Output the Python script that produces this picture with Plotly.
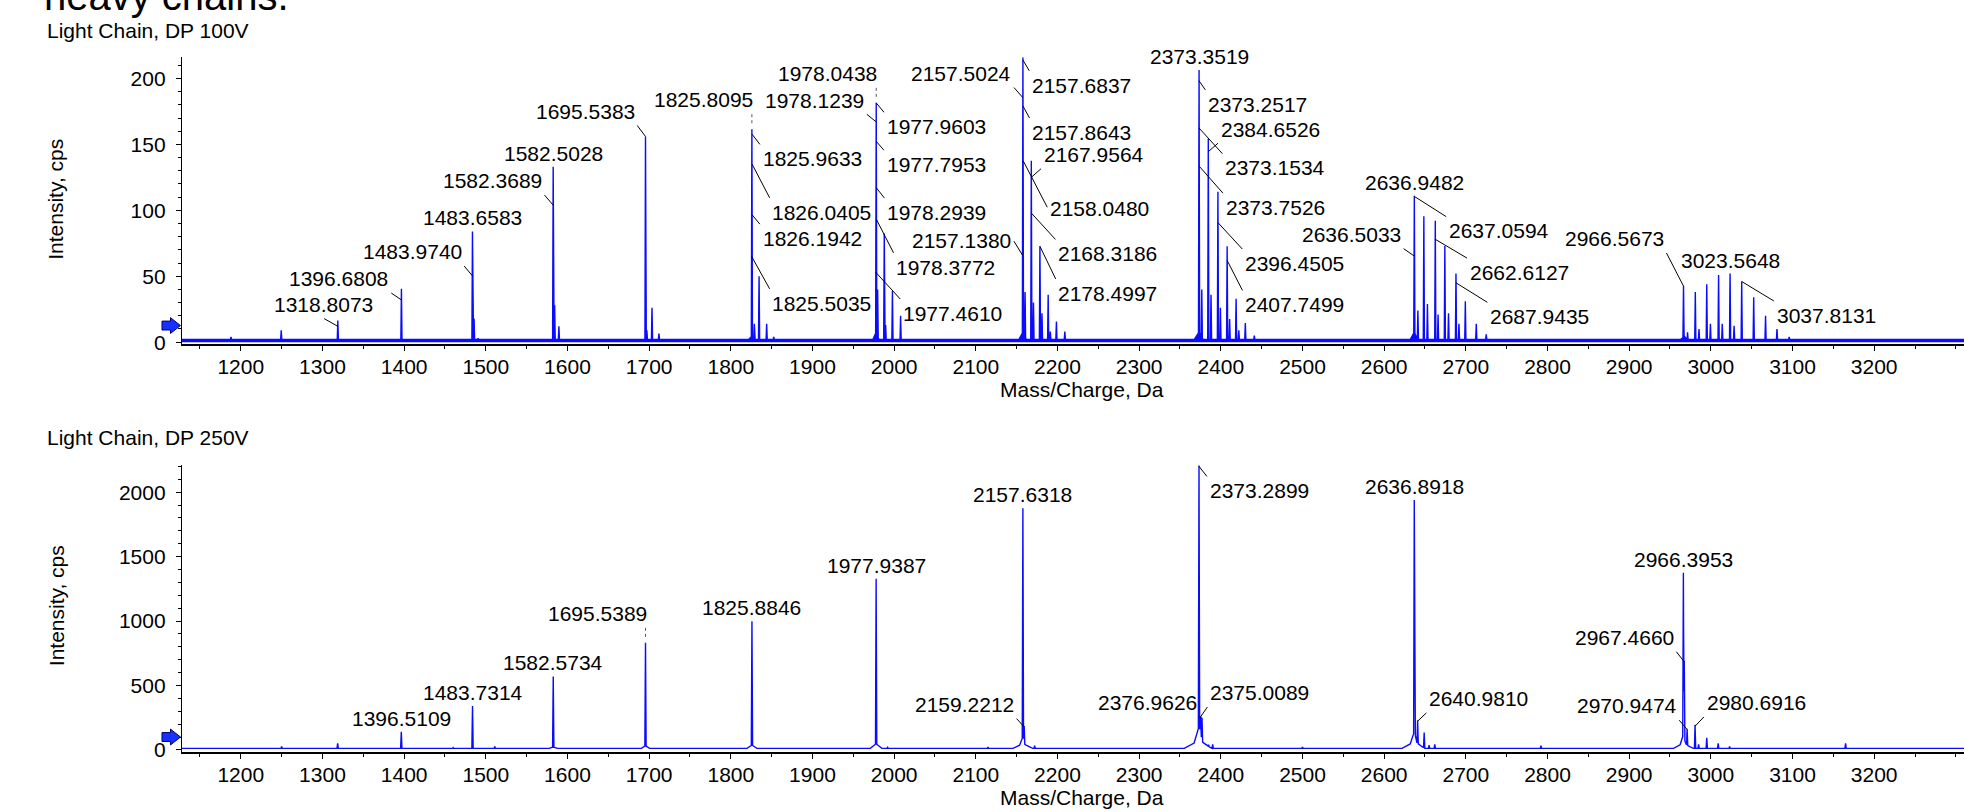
import plotly.graph_objects as go

W, H = 1964, 812
FONT = "Liberation Sans, Arial, sans-serif"
BLUE = "#0b0bff"
FS = 21

# ---------------- Light Chain, DP 100V ----------------
dp100_mz = [1188.0, 1249.5, 1318.8073, 1396.6808, 1483.6583, 1485.6, 1490.5,
            1582.5028, 1584.3, 1589.5, 1695.5383, 1697.2, 1703.5, 1712.0,
            1825.8095, 1828.8, 1834.6, 1843.9, 1852.6,
            1978.0438, 1979.8, 1987.9, 1989.6, 1997.9, 2007.9,
            2157.6837, 2160.3, 2167.9564, 2170.6, 2178.4997, 2181.0, 2188.6, 2191.2, 2198.7, 2209.0,
            2373.3519, 2376.7, 2384.6526, 2388.0, 2396.4505, 2399.5, 2407.7499, 2410.8,
            2418.7, 2422.0, 2430.0, 2441.0,
            2636.9482, 2641.3, 2648.6, 2653.0, 2662.6127, 2666.0, 2674.3, 2678.8,
            2687.9435, 2691.6, 2699.4, 2712.8, 2725.0,
            2966.5673, 2971.5, 2981.0, 2985.5, 2995.0, 2999.5, 3009.5, 3014.0,
            3023.5648, 3028.5, 3037.8131, 3052.5, 3067.0, 3081.0, 3096.0]
dp100_int = [4, 9, 16.5, 40.5, 84, 18, 3,
             133, 28, 12, 156, 9, 26, 6.5,
             161.5, 14, 50, 14, 4,
             181.5, 40, 82.5, 13, 38.8, 20,
             216, 38, 137.5, 30, 72.7, 22, 36, 8, 15.7, 8,
             206.5, 40, 154.5, 36, 114, 26, 72.7, 17.5,
             33, 9, 14.5, 5,
             111, 24, 95.5, 29, 92, 21, 73, 22,
             52, 14, 31, 14, 6,
             42.5, 7.5, 38, 10, 44, 14, 51, 14,
             52, 12.5, 46, 34, 20, 10, 4]
# broad skirts under the main clusters (centre, height, half-width)
dp100_skirt_mz = [1825.8, 1978.0, 2157.7, 2373.4, 2636.9, 2967.0]
dp100_skirt_int = [5, 8, 8, 8, 8, 5]
dp100_skirt_hw = [4, 4, 5, 6, 5, 4]
dp100_baseline = 2.0

dp100_label_text = ["1318.8073", "1396.6808", "1483.9740", "1483.6583", "1582.3689", "1582.5028",
                    "1695.5383", "1825.8095", "1825.9633", "1826.0405", "1826.1942", "1825.5035",
                    "1978.0438", "1978.1239", "1977.9603", "1977.7953", "1978.2939", "1978.3772",
                    "1977.4610", "2157.5024", "2157.6837", "2157.8643", "2167.9564", "2158.0480",
                    "2157.1380", "2168.3186", "2178.4997", "2373.3519", "2373.2517", "2384.6526",
                    "2373.1534", "2373.7526", "2396.4505", "2407.7499", "2636.9482", "2637.0594",
                    "2636.5033", "2662.6127", "2687.9435", "2966.5673", "3023.5648", "3037.8131"]
dp100_label_int = [12, 32, 50, 84, 104, 133,
                   156, 161.5, 157.75, 135, 96.5, 65,
                   181.5, 167, 181.5, 152.5, 117, 93,
                   53, 185.5, 214, 179, 125, 137.5,
                   66, 97.7, 72.7, 206.5, 198.3, 144.5,
                   162.5, 133.3, 90.7, 62, 111, 110.5,
                   65.5, 78, 45, 42.5, 52, 46]
# label placement: ("top",) above the peak, ("dash",) right-aligned with a dashed tick,
# otherwise (leader attach point, text-centre dx px, text-centre dy px)
dp100_label_place = [("mid", -14.5, -20.7), ("corner", -61.5, -20), ("corner", -59.7, -23.5), ("top",),
                     ("corner", -59.7, -23.2), ("top",), ("corner", -59.4, -24.3), ("dash",),
                     ("corner", 59, 23.5), ("corner", 68.5, 47), ("corner", 58.8, 22.5), ("corner", 69, 45.8),
                     ("dash",), ("corner", -60.7, -20.8), ("corner", 59, 22.7), ("corner", 59, 22.3),
                     ("corner", 59, 23.3), ("corner", 68, 46.7), ("corner", 75.7, 40), ("corner", -60, -23.3),
                     ("corner", 57.4, 24.2), ("corner", 57.4, 25.2), ("corner", 61, -21.8), ("side", 75, 47.3),
                     ("side", -59.6, -14.8), ("corner", 75, 39.3), ("corner", 66.7, 46), ("top",),
                     ("corner", 57.4, 22.5), ("corner", 61, -21.6), ("corner", 74.7, 39), ("corner", 74.7, 40),
                     ("corner", 75.6, 39.7), ("corner", 66.3, 43.4), ("top",), ("corner", 83.1, 33.2),
                     ("corner", -61.7, -20.2), ("corner", 83.1, 31.8), ("corner", 82.7, 32.5),
                     ("corner", -68, -46.5), ("top",), ("corner", 83.5, 32.5)]

# ---------------- Light Chain, DP 250V ----------------
dp250_mz = [1250.0, 1316.0, 1318.6, 1396.5109, 1460.0, 1483.7314, 1511.0, 1582.5734,
            1695.5389, 1825.8846, 1840.0, 1977.9387, 1992.0, 2115.0,
            2157.6318, 2159.2212, 2172.0, 2373.2899, 2375.0089, 2376.9626, 2385.0, 2390.0, 2500.0,
            2636.8918, 2637.4, 2640.9810, 2649.0, 2655.0, 2662.0, 2675.0, 2792.0,
            2966.3953, 2967.4660, 2970.9474, 2980.6916, 2985.0, 2995.0, 3009.0, 3023.0, 3037.0, 3165.0]
dp250_int = [26, 12, 51, 141, 18, 340, 26, 570,
             831, 998, 15, 1328, 20, 23,
             1875, 185, 33, 2215, 260, 250, 40, 43, 23,
             1940, 1230, 230, 136, 38, 43, 15, 33,
             1374, 690, 165, 195, 43, 95, 51, 26, 13, 51]
dp250_skirt_mz = [1582.6, 1695.5, 1825.9, 1977.9, 2157.6, 2157.6, 2373.3, 2373.3,
                  2636.9, 2636.9, 2966.4, 2966.4]
dp250_skirt_int = [25, 35, 40, 50, 55, 110, 80, 190, 70, 150, 60, 130]
dp250_skirt_hw = [5, 5, 6, 7, 12, 4, 18, 6, 15, 5, 12, 4]
dp250_baseline = 12

dp250_label_text = ["1396.5109", "1483.7314", "1582.5734", "1695.5389", "1825.8846", "1977.9387",
                    "2157.6318", "2159.2212", "2373.2899", "2376.9626", "2375.0089", "2636.8918",
                    "2640.9810", "2966.3953", "2967.4660", "2970.9474", "2980.6916"]
dp250_label_int = [141, 340, 570, 831, 998, 1328,
                   1875, 179, 2200, 245, 255, 1940,
                   223, 1374, 683, 159, 184]
dp250_label_place = [("top",), ("top",), ("top",), ("dash",), ("top",), ("top",),
                     ("top",), ("corner", -58.8, -21.5), ("corner", 59, 23.3), ("corner", -54, -15),
                     ("corner", 58, -23.3), ("top",), ("corner", 60, -21.5), ("top",),
                     ("corner", -59, -23.5), ("corner", -59, -22.5), ("corner", 60, -22.5)]

XMIN, XMAX = 1128, 3310
x_ticks = list(range(1200, 3201, 100))
HALF_W, HALF_H = 50.5, 12.5


def profile(mz, inten, skirt_mz, skirt_int, skirt_hw, base, hw):
    """Piecewise-linear envelope of the centroid peaks and their skirts."""
    peaks = [(m, h, hw) for m, h in zip(mz, inten)] + list(zip(skirt_mz, skirt_int, skirt_hw))
    xs = {XMIN, XMAX}
    for m, _, w in peaks:
        xs.update((m - w, m, m + w))
    xs = sorted(x for x in xs if XMIN <= x <= XMAX)
    ys = []
    for x in xs:
        top = max((h * (1 - abs(x - m) / w) for m, h, w in peaks if abs(x - m) < w), default=0.0)
        ys.append(max(base, top))
    return xs, ys


fig = go.Figure()
x1, y1 = profile(dp100_mz, dp100_int, dp100_skirt_mz, dp100_skirt_int, dp100_skirt_hw, dp100_baseline, 0.7)
x2, y2 = profile(dp250_mz, dp250_int, dp250_skirt_mz, dp250_skirt_int, dp250_skirt_hw, dp250_baseline, 0.8)
fig.add_trace(go.Scatter(x=x1, y=y1, mode="lines", line=dict(color=BLUE, width=1.4),
                         fill="tozeroy", fillcolor=BLUE,
                         xaxis="x", yaxis="y", hoverinfo="skip"))
fig.add_trace(go.Scatter(x=x2, y=y2, mode="lines", line=dict(color=BLUE, width=1.4),
                         xaxis="x2", yaxis="y2", hoverinfo="skip"))

annotations = []
shapes = []
label_font = dict(family=FONT, size=FS, color="black")


def add_labels(texts, values, places, xref, yref):
    for t, v, p in zip(texts, values, places):
        m = float(t)
        common = dict(x=m, y=v, xref=xref, yref=yref, text=t, font=label_font)
        if p[0] == "top":
            annotations.append(dict(**common, showarrow=False, xanchor="center",
                                    yanchor="bottom", yshift=0))
        elif p[0] == "dash":
            annotations.append(dict(**common, showarrow=False, xanchor="right",
                                    yanchor="bottom", xshift=3, yshift=16))
            shapes.append(dict(type="line", xref=xref, yref=yref, x0=m, x1=m,
                               ysizemode="pixel", yanchor=v, y0=6, y1=15,
                               line=dict(color="#555555", width=1, dash="3px,3px")))
        else:
            mode, cx, cy = p
            sx = 1 if cx > 0 else -1
            sy = 1 if cy > 0 else -1
            if mode == "mid":
                ax, xanc = cx, "center"
            else:
                ax, xanc = cx - sx * HALF_W, ("left" if sx > 0 else "right")
            if mode == "side":
                ay, yanc = cy, "middle"
            else:
                ay, yanc = cy - sy * HALF_H, ("top" if sy > 0 else "bottom")
            annotations.append(dict(**common, showarrow=True, arrowhead=0, arrowwidth=1,
                                    arrowcolor="black", ax=ax, ay=ay, standoff=0,
                                    startstandoff=1, xanchor=xanc, yanchor=yanc))


add_labels(dp100_label_text, dp100_label_int, dp100_label_place, "x", "y")
add_labels(dp250_label_text, dp250_label_int, dp250_label_place, "x2", "y2")


def px(x):
    return x / W


def py(y):
    return 1 - y / H


def text_at(x, y, s, size=FS, xanchor="center", yanchor="middle", angle=0):
    annotations.append(dict(x=px(x), y=py(y), xref="paper", yref="paper", text=s,
                            showarrow=False, xanchor=xanchor, yanchor=yanchor,
                            textangle=angle, font=dict(family=FONT, size=size, color="black")))


text_at(42, 20, "heavy chains.", size=40, xanchor="left", yanchor="bottom")
text_at(45, 31, "Light Chain, DP 100V", xanchor="left")
text_at(45, 442, "Light Chain, DP 250V", xanchor="left")
text_at(56, 202, "Intensity, cps", angle=-90)
text_at(56, 613, "Intensity, cps", angle=-90)
text_at(1082, 394, "Mass/Charge, Da")
text_at(1082, 806, "Mass/Charge, Da")

# blue start-of-scan arrows at the left of each intensity axis
arrow_pts = [(162.0, -4.5), (170.5, -4.5), (170.5, -8.0), (180.5, 0.0),
             (170.5, 8.0), (170.5, 4.5), (162.0, 4.5)]
for cy in (329.2, 745.3):
    path = "M " + " L ".join(f"{px(a):.5f},{py(cy + b):.5f}" for a, b in arrow_pts) + " Z"
    shapes.append(dict(type="path", xref="paper", yref="paper", path=path,
                       fillcolor="#1530ff", line=dict(color="#000070", width=1)))

x_dom = [182 / W, 1.0]
axis_common = dict(showgrid=False, zeroline=False, showline=True, linecolor="black",
                   ticks="outside", tickcolor="black", tickfont=dict(family=FONT, size=FS, color="black"))
xaxis_cfg = dict(**axis_common, range=[XMIN, XMAX], tickmode="array", tickvals=x_ticks,
                 ticklen=5, linewidth=2, domain=x_dom, ticklabelstandoff=-2,
                 minor=dict(tick0=0, dtick=50, ticklen=3, ticks="outside", tickcolor="black"))

fig.update_layout(
    width=W, height=H,
    margin=dict(l=0, r=0, t=0, b=0),
    paper_bgcolor="white", plot_bgcolor="white",
    showlegend=False,
    xaxis=dict(**xaxis_cfg, anchor="y"),
    xaxis2=dict(**xaxis_cfg, anchor="y2"),
    yaxis=dict(**axis_common, range=[-1.5, 216], domain=[1 - 348 / H, 1 - 58 / H],
               tickvals=[0, 50, 100, 150, 200], ticklen=5, linewidth=1.3, anchor="x",
               ticklabelstandoff=6,
               minor=dict(tick0=0, dtick=10, ticklen=3, ticks="outside", tickcolor="black")),
    yaxis2=dict(**axis_common, range=[-15, 2207], domain=[1 - 760.3 / H, 1 - 470.7 / H],
                tickvals=[0, 500, 1000, 1500, 2000], ticklen=5, linewidth=1.3, anchor="x2",
                ticklabelstandoff=6,
                minor=dict(tick0=0, dtick=100, ticklen=3, ticks="outside", tickcolor="black")),
    annotations=annotations,
    shapes=shapes,
)

fig.write_html("out.html")
